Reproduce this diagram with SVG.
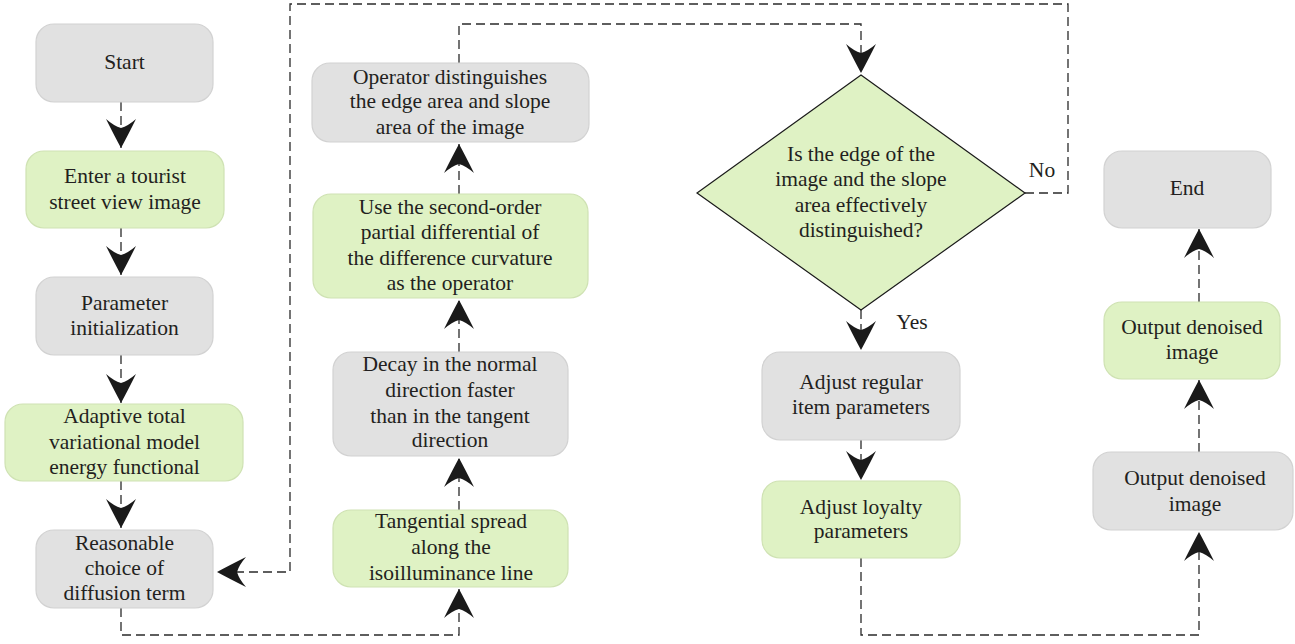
<svg xmlns="http://www.w3.org/2000/svg" width="1295" height="644" viewBox="0 0 1295 644">
<defs>
<style>
.g{fill:#e1e1e1;stroke:#d2d2d2;stroke-width:1.2}
.v{fill:#dff2c4;stroke:#cfe2b3;stroke-width:1.2}
.d{fill:#dff2c4;stroke:#1a1a1a;stroke-width:1.2}
.t{font-size:21.5px;fill:#231f20;text-anchor:middle}
.c{fill:none;stroke:#2a2a2a;stroke-width:1.3;stroke-dasharray:9 5;marker-end:url(#ah)}
</style>
<marker id="ah" markerUnits="userSpaceOnUse" viewBox="-31 -17 33 34" refX="0" refY="0" markerWidth="33" markerHeight="34" orient="auto">
<path d="M0,0 Q-11,-6 -29,-15 Q-22,-7 -20,0 Q-22,7 -29,15 Q-11,6 0,0 Z" fill="#1a1a1a"/>
</marker>
</defs>
<g font-family="'Liberation Serif', 'DejaVu Serif', 'Times New Roman', serif">
<g id="connectors" class="t">
<path class="c" d="M121,102 V148"/>
<path class="c" d="M121,228 V275"/>
<path class="c" d="M121,355 V403"/>
<path class="c" d="M121,481 V528"/>
<path class="c" d="M121,608 V635 H459 V589"/>
<path class="c" d="M459,510 V458"/>
<path class="c" d="M459,352 V300"/>
<path class="c" d="M459,194 V144"/>
<path class="c" d="M459,63 V24 H861 V73"/>
<path class="c" d="M1025,193 H1068 V4 H290 V572 H217"/>
<path class="c" d="M861,310 V350"/>
<path class="c" d="M861,440 V480"/>
<path class="c" d="M861,558 V635 H1199 V532"/>
<path class="c" d="M1199,452 V380"/>
<path class="c" d="M1199,302 V229"/>
<text x="1042" y="177">No</text>
<text x="912" y="329">Yes</text>
</g>
<g id="start" class="t"><rect class="g" x="36" y="24" width="177" height="78" rx="18"/><text x="124.5" y="69">Start</text></g>
<g id="enter" class="t"><rect class="v" x="26" y="151" width="198" height="77" rx="18"/><text x="125" y="183">Enter a tourist</text><text x="125" y="209">street view image</text></g>
<g id="param" class="t"><rect class="g" x="36" y="277" width="177" height="78" rx="18"/><text x="124.5" y="310">Parameter</text><text x="124.5" y="335">initialization</text></g>
<g id="adaptive" class="t"><rect class="v" x="5" y="404" width="238" height="77" rx="18"/><text x="124.5" y="423">Adaptive total</text><text x="124.5" y="449">variational model</text><text x="124.5" y="474">energy functional</text></g>
<g id="reasonable" class="t"><rect class="g" x="36" y="530" width="177" height="78" rx="18"/><text x="124.5" y="550">Reasonable</text><text x="124.5" y="575">choice of</text><text x="124.5" y="600">diffusion term</text></g>
<g id="operator" class="t"><rect class="g" x="312" y="63" width="277" height="79" rx="18"/><text x="450" y="84">Operator distinguishes</text><text x="450" y="108">the edge area and slope</text><text x="450" y="134">area of the image</text></g>
<g id="use" class="t"><rect class="v" x="313" y="194" width="275" height="104" rx="18"/><text x="450" y="214">Use the second-order</text><text x="450" y="239">partial differential of</text><text x="450" y="265">the difference curvature</text><text x="450" y="290">as the operator</text></g>
<g id="decay" class="t"><rect class="g" x="333" y="352" width="235" height="104" rx="18"/><text x="450" y="371">Decay in the normal</text><text x="450" y="397">direction faster</text><text x="450" y="423">than in the tangent</text><text x="450" y="447">direction</text></g>
<g id="tangential" class="t"><rect class="v" x="333" y="510" width="235" height="77" rx="18"/><text x="451" y="528">Tangential spread</text><text x="451" y="554">along the</text><text x="451" y="580">isoilluminance line</text></g>
<g id="decision" class="t"><polygon class="d" points="861,75 1025,193 861,310 697,193"/><text x="861" y="161">Is the edge of the</text><text x="861" y="186">image and the slope</text><text x="861" y="212">area effectively</text><text x="861" y="237">distinguished?</text></g>
<g id="adjust-regular" class="t"><rect class="g" x="762" y="352" width="198" height="88" rx="18"/><text x="861" y="389">Adjust regular</text><text x="861" y="414">item parameters</text></g>
<g id="adjust-loyalty" class="t"><rect class="v" x="762" y="481" width="198" height="77" rx="18"/><text x="861" y="514">Adjust loyalty</text><text x="861" y="538">parameters</text></g>
<g id="end" class="t"><rect class="g" x="1104" y="151" width="167" height="77" rx="18"/><text x="1187" y="195">End</text></g>
<g id="output-green" class="t"><rect class="v" x="1104" y="302" width="176" height="77" rx="18"/><text x="1192" y="334">Output denoised</text><text x="1192" y="359">image</text></g>
<g id="output-gray" class="t"><rect class="g" x="1093" y="452" width="200" height="78" rx="18"/><text x="1195" y="485">Output denoised</text><text x="1195" y="511">image</text></g>
</g>
</svg>
